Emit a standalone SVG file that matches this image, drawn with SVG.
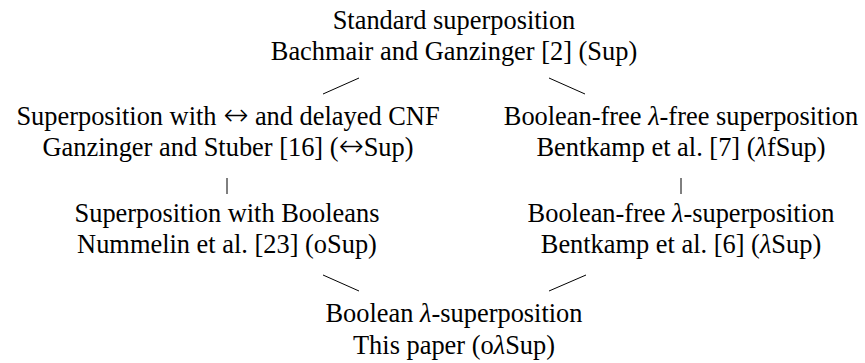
<svg xmlns="http://www.w3.org/2000/svg" width="865" height="363" viewBox="0 0 865 363">
<style>
text{font-family:"Liberation Serif","Times New Roman",serif;font-size:26.4px;fill:#000;text-anchor:middle}
.i{font-style:italic}
.ar{font-family:"DejaVu Sans",sans-serif;font-size:30px;font-weight:200}
line{stroke:#000;stroke-width:1}
</style>
<rect width="865" height="363" fill="#fff"/>
<g id="sup"><text x="454" y="29">Standard superposition</text><text x="454" y="60">Bachmair and Ganzinger [2] (Sup)</text></g>
<g id="iffsup"><text x="228" y="125">Superposition with <tspan class="ar">↔</tspan> and delayed CNF</text><text x="228" y="156">Ganzinger and Stuber [16] (<tspan class="ar">↔</tspan>Sup)</text></g>
<g id="lfsup"><text x="681" y="125">Boolean-free <tspan class="i">λ</tspan>-free superposition</text><text x="681" y="156">Bentkamp et al. [7] (<tspan class="i">λ</tspan>fSup)</text></g>
<g id="osup"><text x="227" y="222">Superposition with Booleans</text><text x="227" y="253">Nummelin et al. [23] (oSup)</text></g>
<g id="lsup"><text x="681" y="222">Boolean-free <tspan class="i">λ</tspan>-superposition</text><text x="681" y="253">Bentkamp et al. [6] (<tspan class="i">λ</tspan>Sup)</text></g>
<g id="olsup"><text x="454" y="322">Boolean <tspan class="i">λ</tspan>-superposition</text><text x="454" y="354">This paper (o<tspan class="i">λ</tspan>Sup)</text></g>
<g id="edges">
<line x1="323" y1="94" x2="359" y2="78"/>
<line x1="549" y1="78" x2="585" y2="94"/>
<line x1="227" y1="178" x2="227" y2="194"/>
<line x1="681" y1="178" x2="681" y2="194"/>
<line x1="323" y1="275" x2="359" y2="291"/>
<line x1="549" y1="291" x2="586" y2="275"/>
</g>
</svg>
